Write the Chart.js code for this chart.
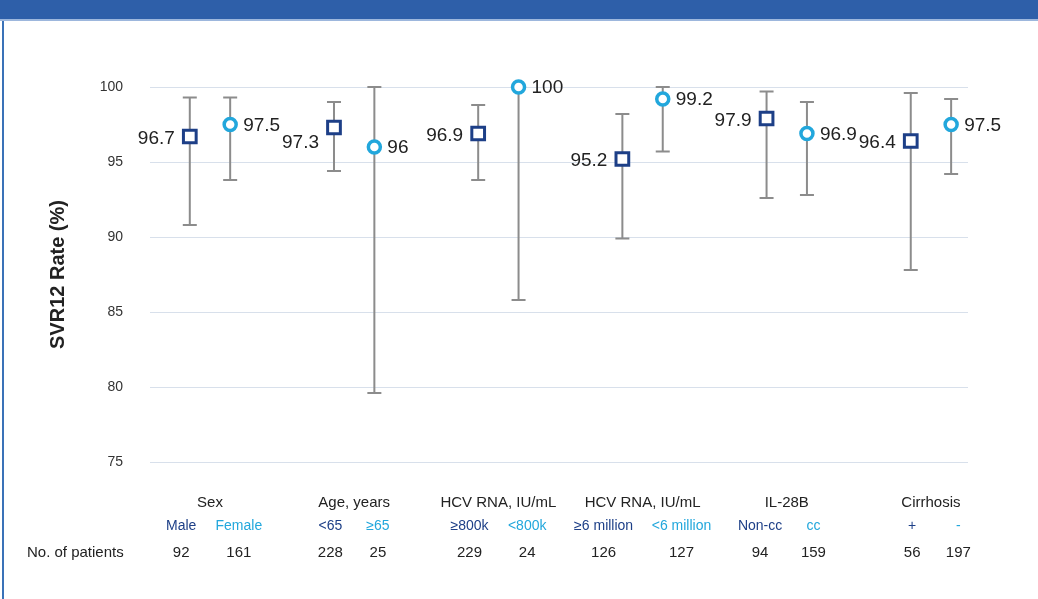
<!DOCTYPE html>
<html>
<head>
<meta charset="utf-8">
<script src="https://cdn.jsdelivr.net/npm/chart.js"></script>
<style>
  html, body { margin: 0; padding: 0; background: #fff; }
  #wrap { position: relative; width: 1038px; height: 599px; overflow: hidden; }
  #banner { position: absolute; left: 0; top: 0; width: 1038px; height: 19px; background: #2e5fa9; border-bottom: 2px solid #9db7dd; }
  #edge { position: absolute; left: 2px; top: 21px; width: 2px; height: 578px; background: #3a72b8; }
  canvas { position: absolute; left: 0; top: 0; }
</style>
</head>
<body>
<div id="wrap">
  <canvas id="chart" width="1038" height="599"></canvas>
  <div id="banner"></div>
  <div id="edge"></div>
</div>
<script>
const groups = ["Sex", "Age, years", "HCV RNA, IU/mL", "HCV RNA, IU/mL", "IL-28B", "Cirrhosis"];
const subLabels = ["Male", "Female", "<65", "≥65", "≥800k", "<800k", "≥6 million", "<6 million", "Non-cc", "cc", "+", "-"];
const patients = [92, 161, 228, 25, 229, 24, 126, 127, 94, 159, 56, 197];

// first subgroup of each pair (squares)
const rateA = [96.7, 97.3, 96.9, 95.2, 97.9, 96.4];
const lowA = [90.8, 94.4, 93.8, 89.9, 92.6, 87.8];
const highA = [99.3, 99.0, 98.8, 98.2, 99.7, 99.6];
// second subgroup of each pair (circles)
const rateB = [97.5, 96, 100, 99.2, 96.9, 97.5];
const lowB = [93.8, 79.6, 85.8, 95.7, 92.8, 94.2];
const highB = [99.3, 100, 100, 100, 99.0, 99.2];

const yTicks = [75, 80, 85, 90, 95, 100];

const NAVY = "#1d3f87";
const CYAN = "#22a7dc";
const FONT = "'Liberation Sans', Arial, sans-serif";
const XMIN = -0.416, XMAX = 5.257;
// how far the two text labels of each pair sit from the pair centre (x units)
const spread = [0.2, 0.165, 0.2, 0.27, 0.185, 0.16];
const centreShift = [0, 0, 0, 0, 0, 0.03];
// the 97.3 value label sits a bit below its marker
const nudgeA = [2, 15, 2, 2, 2, 2];

const ctx = document.getElementById("chart");

const extras = {
  id: "extras",
  beforeDatasetsDraw(chart) {
    const { ctx, scales: { y } } = chart;
    ctx.save();
    ctx.strokeStyle = "#8c8c8c";
    ctx.lineWidth = 2;
    [[lowA, highA], [lowB, highB]].forEach(([lo, hi], d) => {
      chart.getDatasetMeta(d).data.forEach((pt, i) => {
        const y1 = y.getPixelForValue(lo[i]);
        const y2 = y.getPixelForValue(hi[i]);
        ctx.beginPath();
        ctx.moveTo(pt.x, y1); ctx.lineTo(pt.x, y2);
        ctx.moveTo(pt.x - 7, y1); ctx.lineTo(pt.x + 7, y1);
        ctx.moveTo(pt.x - 7, y2); ctx.lineTo(pt.x + 7, y2);
        ctx.stroke();
      });
    });
    ctx.restore();
  },
  afterDatasetsDraw(chart) {
    const { ctx } = chart;
    ctx.save();
    ctx.font = "19px " + FONT;
    ctx.fillStyle = "#222";
    ctx.textBaseline = "middle";
    chart.getDatasetMeta(0).data.forEach((pt, i) => {
      ctx.textAlign = "right";
      ctx.fillText(String(rateA[i]), pt.x - 15, pt.y + nudgeA[i]);
    });
    chart.getDatasetMeta(1).data.forEach((pt, i) => {
      ctx.textAlign = "left";
      ctx.fillText(String(rateB[i]), pt.x + 13, pt.y + 1);
    });
    const xn = chart.scales.xn;
    ctx.font = "15px " + FONT;
    ctx.fillText("No. of patients", 27, xn.top + xn.options.ticks.padding + 9);
    ctx.restore();
  },
};

function labelAxis(weight, padding, size, positions, labels, color) {
  return {
    type: "linear",
    position: "bottom",
    weight: weight,
    min: XMIN,
    max: XMAX,
    grid: { display: false, drawTicks: false },
    border: { display: false },
    afterBuildTicks: (axis) => {
      axis.ticks = positions.map((v) => ({ value: v }));
    },
    afterFit: (axis) => {
      axis.height = padding + Math.round(size * 1.2);
    },
    ticks: {
      autoSkip: false,
      maxRotation: 0,
      padding: padding,
      font: { family: FONT, size: size },
      color: color,
      callback: (v, i) => labels[i],
    },
  };
}

const groupPos = groups.map((g, i) => i);
const subPos = subLabels.map((s, k) => {
  const g = Math.floor(k / 2);
  return g + centreShift[g] + (k % 2 ? spread[g] : -spread[g]);
});

const config = {
  type: "scatter",
  data: {
    datasets: [
      {
        data: rateA.map((v, i) => ({ x: i - 0.14, y: v })),
        pointStyle: "rect",
        pointRadius: 9,
        pointBorderWidth: 3,
        borderColor: NAVY,
        backgroundColor: "#fff",
        clip: false,
      },
      {
        data: rateB.map((v, i) => ({ x: i + 0.14, y: v })),
        pointStyle: "circle",
        pointRadius: 6,
        pointBorderWidth: 3.5,
        borderColor: CYAN,
        backgroundColor: "#fff",
        clip: false,
      },
    ],
  },
  options: {
    responsive: false,
    animation: false,
    layout: { padding: { top: 87, right: 70, bottom: 37, left: 0 } },
    plugins: { legend: { display: false }, tooltip: { enabled: false } },
    scales: {
      x: { type: "linear", display: false, min: XMIN, max: XMAX },
      xg: labelAxis(1, 32, 15, groupPos, groups, "#222"),
      xs: labelAxis(2, 6, 14, subPos, subLabels, (c) => (c.index % 2 ? CYAN : NAVY)),
      xn: labelAxis(3, 9, 15, subPos, patients, "#222"),
      y: {
        min: 75,
        max: 100,
        afterBuildTicks: (axis) => {
          axis.ticks = yTicks.map((v) => ({ value: v }));
        },
        afterFit: (axis) => {
          axis.width = 150;
        },
        grid: { color: "#d8e0eb", lineWidth: 1, drawTicks: false },
        border: { display: false },
        ticks: { padding: 27, color: "#333", font: { family: FONT, size: 14 } },
        title: {
          display: true,
          text: "SVR12 Rate (%)",
          color: "#222",
          font: { family: FONT, size: 20, weight: "bold" },
          padding: { top: 46, bottom: 0 },
        },
      },
    },
  },
  plugins: [extras],
};

const chart = new Chart(ctx, config);
</script>
</body>
</html>
